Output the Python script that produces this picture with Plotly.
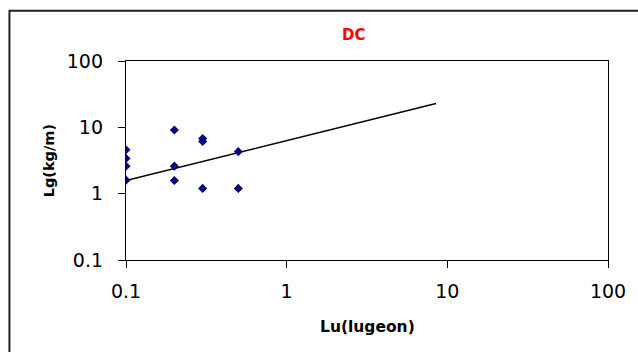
import plotly.graph_objects as go

# Data
lu_values = [0.1, 0.1, 0.1, 0.1, 0.2, 0.2, 0.2, 0.3, 0.3, 0.3, 0.5, 0.5]
lg_values = [4.6, 3.4, 2.6, 1.6, 9.1, 2.6, 1.58, 6.8, 6.1, 1.2, 4.3, 1.2]
trend_x = [0.1, 8.5]
trend_y = [1.58, 22.8]
tick_vals = [0.1, 1, 10, 100]
tick_text = ["0.1", "1", "10", "100"]

W, H = 638, 352
L, R, T, B = 126, 616, 61, 260  # plot area in pixels

def px_x(px):
    return (px - L) / (R - L)

def px_y(py):
    return (B - py) / (B - T)

FONT = "DejaVu Sans"

fig = go.Figure()
fig.add_trace(go.Scatter(
    x=trend_x, y=trend_y, mode="lines",
    line=dict(color="black", width=1.6), hoverinfo="skip", showlegend=False))
fig.add_trace(go.Scatter(
    x=lu_values, y=lg_values, mode="markers",
    marker=dict(symbol="diamond", size=7, color="#000080"),
    showlegend=False))

axis_common = dict(
    type="log", range=[-1, 2], tickvals=tick_vals, ticktext=tick_text,
    showgrid=False, zeroline=False, showline=True, linecolor="black",
    linewidth=1.3, mirror=True, ticks="outside", ticklen=7, tickwidth=1.3,
    tickcolor="black", tickfont=dict(family=FONT, size=19, color="black"),
)
fig.update_xaxes(**axis_common, ticklabelstandoff=7)
fig.update_yaxes(**axis_common, ticklabelstandoff=11)

fig.add_annotation(text="<b>DC</b>", x=px_x(357), y=px_y(35), xref="paper", yref="paper",
                   showarrow=False, xanchor="center", yanchor="middle",
                   font=dict(family=FONT, size=15, color="#ff0000"))
fig.add_annotation(text="<b>Lu(lugeon)</b>", x=px_x(372), y=px_y(327), xref="paper", yref="paper",
                   showarrow=False, xanchor="center", yanchor="middle",
                   font=dict(family=FONT, size=15.5, color="black"))
fig.add_annotation(text="<b>Lg(kg/m)</b>", x=px_x(48), y=px_y(161), xref="paper", yref="paper",
                   showarrow=False, xanchor="center", yanchor="middle", textangle=-90,
                   font=dict(family=FONT, size=14.5, color="black"))

# Outer chart border (left and top visible; right/bottom beyond the picture)
fig.add_shape(type="rect", xref="paper", yref="paper",
              x0=px_x(7.5), x1=px_x(700), y0=px_y(400), y1=px_y(10.7),
              line=dict(color="#222222", width=2), layer="below")

fig.update_layout(
    width=W, height=H,
    margin=dict(l=L, r=W - R, t=T, b=H - B),
    paper_bgcolor="white", plot_bgcolor="white",
    showlegend=False,
)

fig.write_html("out.html")
